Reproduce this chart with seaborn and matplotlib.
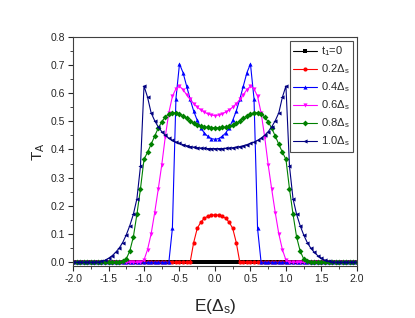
import numpy as np
import matplotlib
matplotlib.use("Agg")
import matplotlib.pyplot as plt
import seaborn as sns
from matplotlib.ticker import MultipleLocator

# energy grid E (in units of Delta_s), step 0.05 from -2 to 2
energy = np.linspace(-2.0, 2.0, 81)

# T_A for each t1
t_00 = [0.0] * 81
t_02 = [0.0] * 34 + [0.07, 0.12, 0.142, 0.156, 0.163, 0.167, 0.168,
                     0.167, 0.163, 0.156, 0.142, 0.12, 0.07] + [0.0] * 34
t_04 = [0.0] * 28 + [0.12, 0.58, 0.703, 0.672, 0.625, 0.578, 0.536, 0.503, 0.477,
                     0.458, 0.446, 0.438, 0.436,
                     0.438, 0.446, 0.458, 0.477, 0.503, 0.536, 0.578, 0.625,
                     0.672, 0.703, 0.58, 0.12] + [0.0] * 28
t_06 = [0.0] * 20 + [0.008, 0.045, 0.10, 0.175, 0.258, 0.345, 0.445, 0.53, 0.588,
                     0.615, 0.624, 0.612, 0.594, 0.577, 0.562, 0.55, 0.54, 0.532,
                     0.526, 0.522, 0.52,
                     0.522, 0.526, 0.532, 0.54, 0.55, 0.562, 0.577, 0.594, 0.612,
                     0.624, 0.615, 0.588, 0.53, 0.445, 0.345, 0.258, 0.175, 0.10,
                     0.045, 0.008] + [0.0] * 20
t_08 = [0.0] * 14 + [0.003, 0.012, 0.04, 0.09, 0.17, 0.26, 0.365, 0.39, 0.418, 0.447,
                     0.475, 0.498, 0.515, 0.526, 0.53, 0.53, 0.526, 0.519, 0.51, 0.5,
                     0.492, 0.486, 0.482, 0.479, 0.478, 0.477, 0.477,
                     0.477, 0.478, 0.479, 0.482, 0.486, 0.492, 0.5, 0.51, 0.519,
                     0.526, 0.53, 0.53, 0.526, 0.515, 0.498, 0.475, 0.447, 0.418,
                     0.39, 0.365, 0.26, 0.17, 0.09, 0.04, 0.012, 0.003] + [0.0] * 14
t_10 = [0.0] * 7 + [0.001, 0.003, 0.007, 0.014, 0.023, 0.035, 0.05, 0.07, 0.097, 0.13,
                    0.17, 0.225, 0.34, 0.625, 0.585, 0.53, 0.502, 0.48, 0.463, 0.45,
                    0.44, 0.432, 0.426, 0.421, 0.417, 0.413, 0.41, 0.408, 0.406, 0.405,
                    0.404, 0.403, 0.403, 0.403,
                    0.403, 0.403, 0.404, 0.405, 0.406, 0.408, 0.41, 0.413, 0.417,
                    0.421, 0.426, 0.432, 0.44, 0.45, 0.463, 0.48, 0.502, 0.53, 0.585,
                    0.625, 0.34, 0.225, 0.17, 0.13, 0.097, 0.07, 0.05, 0.035, 0.023,
                    0.014, 0.007, 0.003, 0.001] + [0.0] * 7

labels = ["t$_1$=0", "0.2Δ$_s$", "0.4Δ$_s$", "0.6Δ$_s$", "0.8Δ$_s$", "1.0Δ$_s$"]
colors = ["black", "#ff0000", "#0000ff", "#ff00ff", "#008000", "#000080"]
markers = ["s", "o", "^", "v", "D", "<"]
curves = [t_00, t_02, t_04, t_06, t_08, t_10]

sns.set_style("ticks")
plt.rcParams["font.family"] = ["Liberation Sans", "DejaVu Sans"]
plt.rcParams["mathtext.fontset"] = "custom"
plt.rcParams["mathtext.rm"] = "Liberation Sans"
plt.rcParams["mathtext.it"] = "Liberation Sans:italic"
plt.rcParams["mathtext.default"] = "regular"
plt.rcParams["axes.unicode_minus"] = False

fig, ax = plt.subplots(figsize=(4.15, 3.18), dpi=100)
fig.subplots_adjust(left=0.176, right=0.86, top=0.885, bottom=0.162)

for lab, vals, col, mk in zip(labels, curves, colors, markers):
    sns.lineplot(x=energy, y=vals, color=col, marker=mk, markersize=3,
                 markeredgewidth=0, linewidth=0.8, label=lab, ax=ax)

ax.set_xlim(-2.0, 2.0)
ax.set_ylim(-0.015, 0.8)
ax.xaxis.set_major_locator(MultipleLocator(0.5))
ax.xaxis.set_minor_locator(MultipleLocator(0.25))
ax.yaxis.set_major_locator(MultipleLocator(0.1))
ax.yaxis.set_minor_locator(MultipleLocator(0.05))
ax.xaxis.set_major_formatter("{x:.1f}")
ax.yaxis.set_major_formatter("{x:.1f}")
ax.tick_params(which="major", direction="out", length=3.5, width=0.8, labelsize=7.5, pad=2)
ax.tick_params(which="minor", direction="out", length=2, width=0.6)
for s in ax.spines.values():
    s.set_color("0.25")
    s.set_linewidth(0.8)

ax.set_xlabel("E(Δ$_s$)", fontsize=12.5, labelpad=9)
ax.set_ylabel("T$_A$", fontsize=11, labelpad=3)

leg = ax.legend(loc="upper right", bbox_to_anchor=(0.985, 0.98), fontsize=8,
                frameon=True, fancybox=False, edgecolor="0.3", framealpha=1,
                borderaxespad=0, handlelength=2.2, handletextpad=0.3,
                labelspacing=0.38, borderpad=0.3)
leg.get_frame().set_linewidth(0.8)

fig.savefig("out.png", dpi=100)
